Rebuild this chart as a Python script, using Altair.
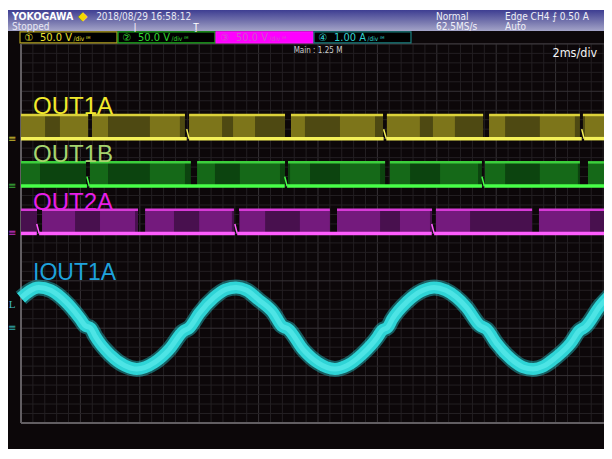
import altair as alt
import pandas as pd
import numpy as np

# ---------------- values ----------------
X_DOMAIN = [-10.438, 9.630]    # ms visible (2 ms/div, trigger centred)
Y_DOMAIN = [-4.549, 4.715]     # divisions
GRID_X = [-10.0, 10.0]
GRID_Y = [-4.0, 4.0]

channels = ["OUT1A", "OUT1B", "OUT2A"]
ground_div = [2.0, 1.0, 0.0]
high_level_v = [25.0, 25.0, 25.0]
v_per_div = 50.0

band_gaps = {
    "OUT1A": [(-7.74, -7.61), (-4.48, -4.34), (-1.11, -0.91), (2.19, 2.32), (5.56, 5.76), (8.82, 8.92)],
    "OUT1B": [(-7.81, -7.68), (-4.28, -4.07), (-1.11, -1.01), (2.26, 2.42), (5.52, 5.62), (8.82, 9.09)],
    "OUT2A": [(-9.46, -9.29), (-6.06, -5.82), (-2.83, -2.66), (0.40, 0.64), (3.84, 3.97), (7.21, 7.44)],
}
band_dense = {
    "OUT1A": [(-10.0, -9.19), (-8.69, -7.74), (-7.61, -7.07), (-5.66, -4.65), (-4.34, -3.23),
              (-2.86, -2.12), (-0.91, -0.44), (0.74, 1.92), (2.32, 3.43), (3.87, 4.61),
              (5.76, 6.30), (7.47, 8.65), (8.99, 9.90)],
    "OUT1B": [(-10.0, -9.36), (-7.68, -7.07), (-5.66, -4.48), (-4.07, -3.47), (-2.63, -1.28),
              (-0.94, -0.27), (0.74, 2.09), (2.42, 3.10), (4.11, 5.39), (5.62, 6.30),
              (7.47, 8.75), (9.09, 9.90)],
    "OUT2A": [(-9.29, -8.18), (-7.34, -6.16), (-5.82, -4.85), (-4.00, -2.90), (-2.63, -1.78),
              (-0.61, 0.40), (0.64, 2.09), (2.76, 3.77), (3.97, 5.12), (7.44, 9.16)],
}
base_breaks = {
    "OUT1A": [(-4.42, -4.34), (2.21, 2.30), (8.88, 8.96)],
    "OUT1B": [(-7.78, -7.70), (-1.12, -1.04), (5.52, 5.60)],
    "OUT2A": [(-9.47, -9.39), (-2.80, -2.72), (3.83, 3.91)],
}

iout_t = [-10.0, -9.4, -9.0, -8.5, -8.0, -7.85, -7.65, -7.5, -7.0, -6.5, -6.1, -5.5, -5.0,
          -4.55, -4.33, -4.0, -3.5, -3.1, -2.76, -2.4, -2.0, -1.5, -1.22, -1.0, -0.5, 0.0,
          0.57, 1.0, 1.5, 2.0, 2.15, 2.35, 2.5, 3.0, 3.5, 3.91, 4.3, 5.0, 5.45, 5.68, 6.0,
          6.5, 6.9, 7.24, 7.6, 8.0, 8.5, 8.8, 9.0, 9.5, 9.9]
iout_a = [0.64, 0.86, 0.80, 0.56, 0.19, 0.06, 0.00, -0.17, -0.56, -0.79, -0.86, -0.72, -0.44,
          -0.07, 0.01, 0.31, 0.65, 0.82, 0.86, 0.80, 0.60, 0.32, 0.05, -0.02, -0.45, -0.73,
          -0.86, -0.78, -0.54, -0.19, -0.05, 0.02, 0.19, 0.56, 0.79, 0.86, 0.80, 0.44, 0.06,
          -0.02, -0.31, -0.65, -0.82, -0.86, -0.80, -0.62, -0.32, -0.05, 0.03, 0.47, 0.74]
iout_ground_div = -2.0
a_per_div = 1.0
trig_level_a = 0.5

label_texts = ["OUT1A", "OUT1B", "OUT2A", "IOUT1A"]
label_colors = ["#f2ea2c", "#a6d46e", "#e81ee8", "#1ea2dc"]

box_values = ["50.0 V", "50.0 V", "50.0 V", "1.00 A"]
box_marks = ["\u2460", "\u2461", "\u2462", "\u2463"]
box_strokes = ["#b0a020", "#20b020", "#ff10ff", "#1a8080"]
box_fills = ["#000000", "#000000", "#ff00ff", "#000000"]
box_text_colors = ["#ece030", "#30d830", "#d050d0", "#30d0d0"]

# ---------------- layout (ms / div units) ----------------
HDR_BOTTOM = 4.272
BOX_Y = [4.021, 4.255]
BOX_LEFT = [-10.034, -6.734, -3.434, -0.135]
BOX_W = 3.266
LABEL_X = -9.596
LABEL_Y = [2.522, 1.509, 0.496, -0.982]
MARK_X = -10.30

xs = alt.Scale(domain=X_DOMAIN, nice=False, zero=False)
ys = alt.Scale(domain=Y_DOMAIN, nice=False, zero=False)


def X(f):
    return alt.X(f, type="quantitative", scale=xs, axis=None)


def Y(f):
    return alt.Y(f, type="quantitative", scale=ys, axis=None)


layers = []

# grid
minor_vx = np.round(np.arange(GRID_X[0], GRID_X[1] + 1e-9, 0.4), 3)
minor_hy = np.round(np.arange(GRID_Y[0], GRID_Y[1] + 1e-9, 0.2), 3)
gv = pd.DataFrame({"x": minor_vx, "y": GRID_Y[0], "y2": GRID_Y[1],
                   "major": [abs(v / 2 - round(v / 2)) < 1e-6 for v in minor_vx]})
gh = pd.DataFrame({"y": minor_hy, "x": GRID_X[0], "x2": GRID_X[1],
                   "major": [abs(v - round(v)) < 1e-6 for v in minor_hy]})
layers.append(alt.Chart(gv).mark_rule(clip=True, strokeWidth=1).encode(
    x=X("x"), y=Y("y"), y2="y2:Q",
    color=alt.condition("datum.major", alt.value("#363236"), alt.value("#231f22"))))
layers.append(alt.Chart(gh).mark_rule(clip=True, strokeWidth=1).encode(
    y=Y("y"), x=X("x"), x2="x2:Q",
    color=alt.condition("datum.major", alt.value("#363236"), alt.value("#231f22"))))
border = pd.DataFrame({"x": [GRID_X[0], GRID_X[0]], "x2": [GRID_X[0], GRID_X[1]],
                       "y": [GRID_Y[0], GRID_Y[0]], "y2": [GRID_Y[1], GRID_Y[0]]})
layers.append(alt.Chart(border).mark_rule(clip=True, strokeWidth=2, color="#625e62").encode(
    x=X("x"), x2="x2:Q", y=Y("y"), y2="y2:Q"))
topline = pd.DataFrame({"x": [GRID_X[0]], "x2": [GRID_X[1]], "y": [GRID_Y[1]]})
layers.append(alt.Chart(topline).mark_rule(clip=True, strokeWidth=1, color="#3a363a").encode(
    x=X("x"), x2="x2:Q", y=Y("y")))


def complement(gaps, lo, hi):
    segs, cur = [], lo
    for a, b in gaps:
        segs.append((cur, a))
        cur = b
    segs.append((cur, hi))
    return segs


fill_cols = ["#4e4912", "#0c440f", "#48104e"]
dense_cols = ["#867c1c", "#17701a", "#7c1c86"]
top_cols = ["#dcd23a", "#3ccf3c", "#d83ad8"]
base_cols = ["#f4f058", "#48ff48", "#ff5cff"]
for i, ch in enumerate(channels):
    g = ground_div[i]
    hi = g + high_level_v[i] / v_per_div
    segs = complement(band_gaps[ch], GRID_X[0], X_DOMAIN[1])
    df = pd.DataFrame({"x": [s[0] for s in segs], "x2": [s[1] for s in segs], "y": g, "y2": hi})
    layers.append(alt.Chart(df).mark_rect(clip=True, color=fill_cols[i]).encode(
        x=X("x"), x2="x2:Q", y=Y("y"), y2="y2:Q"))
    dd = pd.DataFrame({"x": [s[0] for s in band_dense[ch]], "x2": [s[1] for s in band_dense[ch]],
                       "y": g, "y2": hi})
    layers.append(alt.Chart(dd).mark_rect(clip=True, color=dense_cols[i], opacity=0.85).encode(
        x=X("x"), x2="x2:Q", y=Y("y"), y2="y2:Q"))
    layers.append(alt.Chart(df).mark_rule(clip=True, color=top_cols[i], strokeWidth=2.5).encode(
        x=X("x"), x2="x2:Q", y=Y("y2")))
    bsegs = complement(base_breaks[ch], GRID_X[0], X_DOMAIN[1])
    bdf = pd.DataFrame({"x": [s[0] for s in bsegs], "x2": [s[1] for s in bsegs], "y": g})
    layers.append(alt.Chart(bdf).mark_rule(clip=True, color=base_cols[i], strokeWidth=3.5).encode(
        x=X("x"), x2="x2:Q", y=Y("y")))
    tick = pd.DataFrame({"x": [a for a, b in base_breaks[ch]], "x2": [b for a, b in base_breaks[ch]],
                         "y": g + 0.2, "y2": g})
    layers.append(alt.Chart(tick).mark_rule(clip=True, color=base_cols[i], strokeWidth=1.5).encode(
        x=X("x"), x2="x2:Q", y=Y("y"), y2="y2:Q"))

# current trace
cur = pd.DataFrame({"t": iout_t, "a": iout_a})
cur["y"] = iout_ground_div + cur["a"] / a_per_div
for w, c, o in [(16, "#24c6ca", 0.45), (12, "#2fdadc", 0.95), (5, "#62eeee", 0.6)]:
    layers.append(alt.Chart(cur).mark_line(clip=True, interpolate="monotone", strokeWidth=w,
                                           color=c, opacity=o).encode(
        x=X("t"), y=Y("y")))

# header band
hdr = pd.DataFrame({"x": [X_DOMAIN[0]], "x2": [X_DOMAIN[1]], "y": [HDR_BOTTOM], "y2": [Y_DOMAIN[1]]})
grad = alt.LinearGradient(gradient="linear", x1=0, x2=0, y1=0, y2=1,
                          stops=[alt.GradientStop(color="#3e3e92", offset=0),
                                 alt.GradientStop(color="#7a7ab0", offset=0.6),
                                 alt.GradientStop(color="#a4a4c8", offset=1)])
layers.append(alt.Chart(hdr).mark_rect(color=grad).encode(x=X("x"), x2="x2:Q", y=Y("y"), y2="y2:Q"))

# channel boxes
boxes = pd.DataFrame({"x": BOX_LEFT, "x2": [b + BOX_W for b in BOX_LEFT], "y": BOX_Y[0], "y2": BOX_Y[1],
                      "fill": box_fills, "stroke": box_strokes})
layers.append(alt.Chart(boxes).mark_rect(strokeWidth=1.2).encode(
    x=X("x"), x2="x2:Q", y=Y("y"), y2="y2:Q",
    fill=alt.Fill("fill:N", scale=None), stroke=alt.Stroke("stroke:N", scale=None)))


def text_layer(df, font, weight="normal", align="left", baseline="alphabetic"):
    return alt.Chart(df).mark_text(font=font, fontWeight=weight, align=align, baseline=baseline).encode(
        x=X("x"), y=Y("y"), text="text:N",
        color=alt.Color("color:N", scale=None), size=alt.Size("size:Q", scale=None))


NARROW = "Liberation Sans Narrow, DejaVu Sans Condensed, Liberation Sans"
box_txt = pd.DataFrame({
    "x": [b + 0.673 for b in BOX_LEFT] + [b + 1.80 for b in BOX_LEFT],
    "y": 4.065,
    "text": box_values + ["/div \u1d35\u1d39"] * 4,
    "color": box_text_colors * 2,
    "size": [11] * 4 + [6.5] * 4})
layers.append(text_layer(box_txt, NARROW))
circ = pd.DataFrame({"x": [b + 0.30 for b in BOX_LEFT], "y": 4.065, "text": box_marks,
                     "color": box_text_colors, "size": 10})
layers.append(text_layer(circ, "DejaVu Sans", align="center"))

hdr_txt = pd.DataFrame({
    "x": [-7.47, -10.30, 3.97, 3.97, 6.30, 6.30],
    "y": [4.507, 4.292, 4.507, 4.296, 4.507, 4.296],
    "text": ["2018/08/29  16:58:12", "Stopped", "Normal", "62.5MS/s",
             "Edge CH4 \u2A0D 0.50 A", "Auto"],
    "color": ["#e8e8f4", "#e8e8f4", "#f0f0f8", "#f0f0f8", "#f0f0f8", "#f0f0f8"],
    "size": [10, 10, 10, 10, 10, 10]})
layers.append(text_layer(hdr_txt, NARROW))
logo = pd.DataFrame({"x": [-10.30], "y": [4.50], "text": ["YOKOGAWA"], "color": ["#ffffff"], "size": [10.5]})
layers.append(text_layer(logo, NARROW, weight="bold"))
dia = pd.DataFrame({"x": [-7.92], "y": [4.50], "text": ["\u25C6"], "color": ["#f4d800"], "size": [12]})
layers.append(text_layer(dia, "DejaVu Sans", align="center"))
tmark = pd.DataFrame({"x": [-6.16, -4.11], "y": [4.29, 4.29], "text": ["|", "\u0162"],
                      "color": ["#ffffff", "#ffffff"], "size": [9, 9]})
layers.append(text_layer(tmark, "DejaVu Sans", align="center"))

info = pd.DataFrame({"x": [0.0], "y": [3.80], "text": ["Main : 1.25 M"], "color": ["#cfcfcf"], "size": [8]})
layers.append(text_layer(info, NARROW, align="center"))
tdiv = pd.DataFrame({"x": [9.40], "y": [3.73], "text": ["2ms/div"], "color": ["#f4f4f4"], "size": [12.5]})
layers.append(text_layer(tdiv, NARROW, align="right"))

labels = pd.DataFrame({"x": LABEL_X, "y": LABEL_Y, "text": label_texts, "color": label_colors,
                       "size": [24, 24, 24, 23]})
layers.append(text_layer(labels, "Liberation Sans"))

gnd = pd.DataFrame({"x": MARK_X, "y": ground_div + [iout_ground_div], "text": "\u2261",
                    "color": ["#c8b830", "#3aa83a", "#c030c0", "#30a8a8"], "size": 10})
layers.append(text_layer(gnd, "DejaVu Sans", align="center", baseline="middle"))
lmark = pd.DataFrame({"x": [MARK_X], "y": [iout_ground_div + trig_level_a / a_per_div], "text": ["L"],
                      "color": ["#40b8c0"], "size": [11]})
layers.append(text_layer(lmark, "Liberation Serif", align="center", baseline="middle"))

chart = alt.layer(*layers).properties(
    width=596, height=439,
    padding={"left": 0, "top": 2, "right": 0, "bottom": 0},
    autosize=alt.AutoSizeParams(type="none"),
    background="#ffffff",
).configure_view(fill="#0c0709", stroke=None)

chart.save("out.html", embed_options={"renderer": "svg", "actions": False})
